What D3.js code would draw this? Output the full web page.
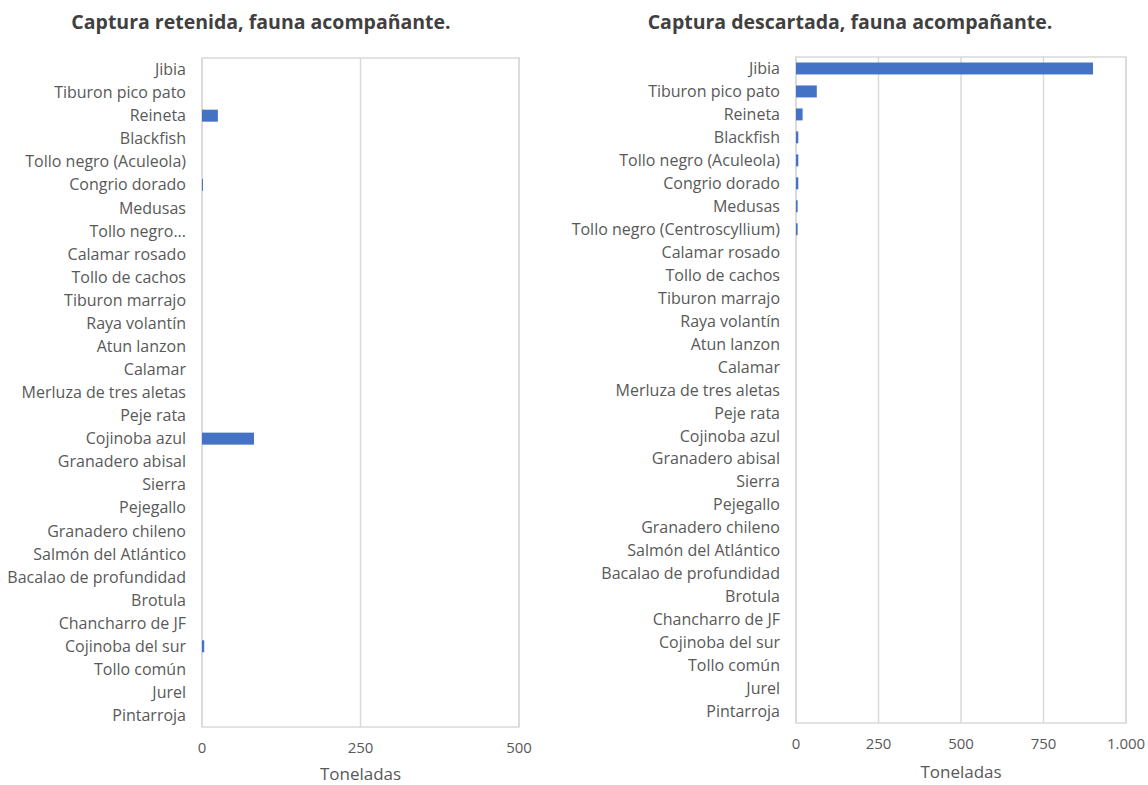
<!DOCTYPE html>
<html>
<head>
<meta charset="utf-8">
<script src="https://cdn.jsdelivr.net/npm/d3@7"></script>
<style>
  body { margin: 0; background: #fff; }
  svg text { font-family: "Open Sans", Lato, sans-serif; }
</style>
</head>
<body>
<svg id="vis" width="1148" height="785"></svg>
<script>
// species, same order in both charts (top to bottom)
var species = ["Jibia", "Tiburon pico pato", "Reineta", "Blackfish", "Tollo negro (Aculeola)",
  "Congrio dorado", "Medusas", "Tollo negro (Centroscyllium)", "Calamar rosado", "Tollo de cachos",
  "Tiburon marrajo", "Raya volantín", "Atun lanzon", "Calamar", "Merluza de tres aletas", "Peje rata",
  "Cojinoba azul", "Granadero abisal", "Sierra", "Pejegallo", "Granadero chileno",
  "Salmón del Atlántico", "Bacalao de profundidad", "Brotula", "Chancharro de JF",
  "Cojinoba del sur", "Tollo común", "Jurel", "Pintarroja"];

// toneladas
var retenida = [0, 0, 25, 0, 0, 1.5, 0, 0, 0, 0, 0, 0, 0, 0, 0, 0, 82, 0, 0, 0, 0, 0, 0, 0, 0, 3.5, 0, 0, 0];
var descartada = [900, 63, 20, 7, 7, 7, 5, 5, 0, 0, 0, 0, 0, 0, 0, 0, 0, 0, 0, 0, 0, 0, 0, 0, 0, 0, 0, 0, 0];

var ticksLeft = [0, 250, 500];
var ticksRight = [0, 250, 500, 750, 1000];

var svg = d3.select("#vis");
var fmt = function(d) { return d3.format(",")(d).replace(/,/g, "."); };

function drawChart(opt) {
  var g = svg.append("g");

  var x = d3.scaleLinear().domain([0, opt.max]).range([opt.x0, opt.x1]);
  var y = d3.scaleBand().domain(species).range([opt.y0, opt.y1]).paddingInner(0.48).paddingOuter(0.24);

  // title
  g.append("text")
    .attr("x", opt.titleX).attr("y", 29)
    .attr("text-anchor", "middle")
    .attr("font-size", "19.5px").attr("font-weight", "bold")
    .attr("fill", "#404040")
    .text(opt.title);

  // plot border
  g.append("rect")
    .attr("x", opt.x0).attr("y", opt.y0)
    .attr("width", opt.x1 - opt.x0).attr("height", opt.y1 - opt.y0)
    .attr("fill", "none").attr("stroke", "#d9d9d9").attr("stroke-width", 1.5);

  // gridlines
  g.selectAll(".grid")
    .data(opt.ticks)
    .enter().append("line")
    .attr("x1", function(d) { return x(d); })
    .attr("x2", function(d) { return x(d); })
    .attr("y1", opt.y0).attr("y2", opt.y1)
    .attr("stroke", "#d9d9d9").attr("stroke-width", 1.5);

  // bars
  g.selectAll(".bar")
    .data(opt.values)
    .enter().append("rect")
    .attr("x", x(0))
    .attr("y", function(d, i) { return y(species[i]); })
    .attr("width", function(d) { return x(d) - x(0); })
    .attr("height", y.bandwidth())
    .attr("fill", "#4472c4");

  // category labels
  g.selectAll(".lab")
    .data(opt.labels)
    .enter().append("text")
    .attr("x", opt.x0 - 16)
    .attr("y", function(d, i) { return y(species[i]) + y.bandwidth() / 2; })
    .attr("dy", "0.35em")
    .attr("text-anchor", "end")
    .attr("font-size", "16px")
    .attr("fill", "#595959")
    .text(function(d) { return d; });

  // tick labels
  g.selectAll(".tick")
    .data(opt.ticks)
    .enter().append("text")
    .attr("x", function(d) { return x(d); })
    .attr("y", opt.y1 + 26)
    .attr("text-anchor", "middle")
    .attr("font-size", "15px")
    .attr("fill", "#595959")
    .text(fmt);

  // axis title
  g.append("text")
    .attr("x", (opt.x0 + opt.x1) / 2)
    .attr("y", Math.min(opt.y1 + 55, 780))
    .attr("text-anchor", "middle")
    .attr("font-size", "17px")
    .attr("fill", "#595959")
    .text("Toneladas");
}

// left chart: long label truncated like in the picture
var labelsLeft = species.map(function(s) { return s == "Tollo negro (Centroscyllium)" ? "Tollo negro..." : s; });

drawChart({
  title: "Captura retenida, fauna acompañante.", titleX: 261,
  x0: 202, x1: 519, y0: 58, y1: 727, max: 500,
  ticks: ticksLeft, values: retenida, labels: labelsLeft
});

drawChart({
  title: "Captura descartada, fauna acompañante.", titleX: 850,
  x0: 796, x1: 1126, y0: 57, y1: 723, max: 1000,
  ticks: ticksRight, values: descartada, labels: species
});
</script>
</body>
</html>
